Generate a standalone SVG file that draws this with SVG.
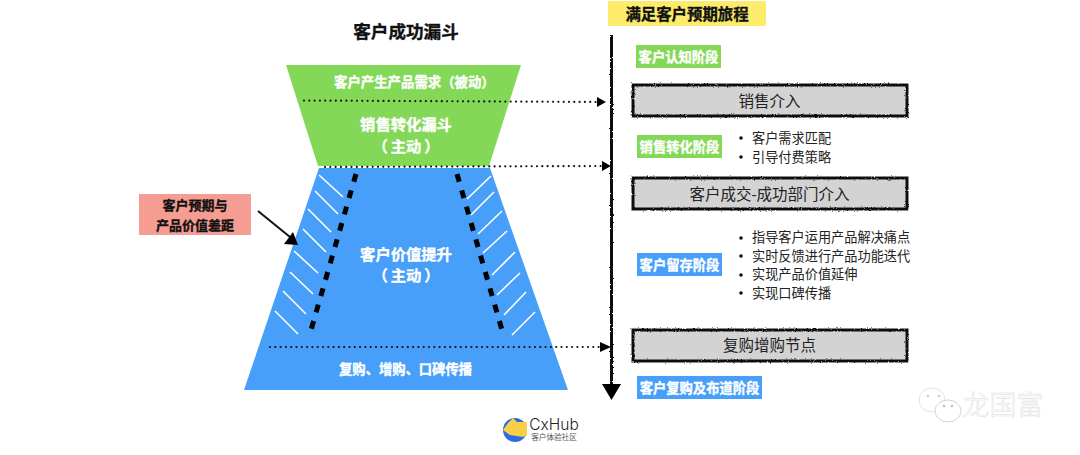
<svg xmlns="http://www.w3.org/2000/svg" width="1080" height="455" viewBox="0 0 1080 455">
<style>
text{font-family:"Liberation Sans","Noto Sans CJK SC",sans-serif;text-anchor:middle;dominant-baseline:central}
.w{fill:#fff;font-weight:700;stroke:#fff;stroke-width:.35px}
.k{fill:#111;font-weight:700;stroke:#111;stroke-width:.35px}
.b{fill:#222;font-size:13.2px;text-anchor:start}
.box{fill:#d3d3d3;stroke:#111;stroke-width:3;filter:url(#rough)}
.bt{fill:#222;font-size:15.5px}
.hatch{stroke:#fff;stroke-width:1.6;fill:none}
.dash{stroke:#000;stroke-width:5;stroke-dasharray:8 9;fill:none}
.dot{stroke:#111;stroke-width:2.2;stroke-linecap:round;stroke-dasharray:0 5.3;fill:none}
.ah{fill:#000}
</style>
<defs>
<filter id="rough" filterUnits="userSpaceOnUse" x="0" y="0" width="1080" height="455"><feTurbulence type="fractalNoise" baseFrequency="0.7" numOctaves="2" seed="3"/><feDisplacementMap in="SourceGraphic" scale="2.4"/></filter>
</defs>
<rect width="1080" height="455" fill="#fff"/>
<g id="title"><text x="406" y="32" class="k" style="font-size:17.6px">客户成功漏斗</text></g>
<g id="funnel-sales">
<polygon points="286,65 521,65 489,166 318,166" fill="#84d858"/>
<text x="414.400" y="82" class="w" style="font-size:13.4px">客户产生产品需求（被动）</text>
<text x="406" y="124" class="w" style="font-size:15.3px">销售转化漏斗</text>
<text x="406" y="146" class="w" style="font-size:15.3px">（<tspan dx="3">主动</tspan><tspan dx="3">）</tspan></text>
</g>
<g id="funnel-value">
<polygon points="319,168 490,168 568,390 244,390" fill="#489ffa"/>
<g class="hatch">
<path d="M319 175L343 197M315 191L338 214M308 209L331 232M303 229L326 252M294 251L318 273M290 272L313 294M283 291L306 314M275 311L298 334"/>
<path d="M491 176L467 199M494 192L471 215M502 211L478 234M507 231L483 253M515 252L492 275M520 273L497 295M526 292L504 315M535 312L512 335"/>
</g>
<path class="dash" d="M356 174L309 337"/>
<path class="dash" d="M457 174L504 337"/>
<text x="406" y="254" class="w" style="font-size:15.3px">客户价值提升</text>
<text x="406" y="275" class="w" style="font-size:15.3px">（<tspan dx="3">主动</tspan><tspan dx="3">）</tspan></text>
<text x="405.500" y="369" class="w" style="font-size:13.3px">复购、增购、口碑传播</text>
</g>
<g id="gap-label">
<rect x="139" y="194" width="112" height="41" fill="#f59d92"/>
<text x="195" y="205" class="k" style="font-size:13px">客户预期与</text>
<text x="195" y="225" class="k" style="font-size:13px">产品价值差距</text>
</g>
<g id="journey-title">
<rect x="608" y="1" width="158" height="25" fill="#fdec6c"/>
<text x="687" y="14" class="k" style="font-size:15.4px">满足客户预期旅程</text>
</g>
<g id="stage-awareness"><rect x="636" y="45" width="85" height="23" fill="#84d858"/><text x="678.500" y="57" class="w" style="font-size:13.300px">客户认知阶段</text></g>
<g id="node-sales"><rect class="box" x="633" y="85" width="274" height="31"/><text x="769.500" y="101" class="bt">销售介入</text></g>
<g id="stage-conversion">
<rect x="637" y="135" width="85" height="23" fill="#84d858"/><text x="679.500" y="147" class="w" style="font-size:13.300px">销售转化阶段</text>
<circle cx="741" cy="138" r="1.800" fill="#111"/><text x="752" y="138" class="b">客户需求匹配</text>
<circle cx="741" cy="157" r="1.800" fill="#111"/><text x="752" y="157" class="b">引导付费策略</text>
</g>
<g id="node-deal"><rect class="box" x="633" y="178" width="274" height="31"/><text x="769.500" y="194" class="bt">客户成交-成功部门介入</text></g>
<g id="stage-retention">
<rect x="637" y="253" width="85" height="23" fill="#489ffa"/><text x="679.500" y="265" class="w" style="font-size:13.300px">客户留存阶段</text>
<circle cx="741" cy="238" r="1.800" fill="#111"/><text x="752" y="237" class="b">指导客户运用产品解决痛点</text>
<circle cx="741" cy="256" r="1.800" fill="#111"/><text x="752" y="256" class="b">实时反馈进行产品功能迭代</text>
<circle cx="741" cy="275" r="1.800" fill="#111"/><text x="752" y="274" class="b">实现产品价值延伸</text>
<circle cx="741" cy="293" r="1.800" fill="#111"/><text x="752" y="293" class="b">实现口碑传播</text>
</g>
<g id="node-repurchase"><rect class="box" x="633" y="330" width="274" height="31"/><text x="769.500" y="345.500" class="bt">复购增购节点</text></g>
<g id="stage-advocacy"><rect x="637" y="376" width="125" height="23" fill="#489ffa"/><text x="699.500" y="388" class="w" style="font-size:13.300px">客户复购及布道阶段</text></g>
<g id="connectors">
<rect x="610" y="35" width="3" height="352" fill="#111" filter="url(#rough)"/>
<polygon class="ah" points="602,384 621,384 611.500,400"/>
<path class="dot" d="M304 100.500L598 102"/>
<polygon class="ah" points="597,97 606,102 597,107"/>
<path class="dot" d="M325 167L602 166"/>
<polygon class="ah" points="602,161 611,166 602,171"/>
<path class="dot" d="M270 347L600 347"/>
<polygon class="ah" points="600,342 611,347 600,352"/>
<path d="M258 211L290 237" stroke="#111" stroke-width="2" fill="none"/>
<polygon class="ah" points="284,244 293,232 298,245"/>
</g>
<g id="logo">
<circle cx="515" cy="430" r="12" fill="#2f6be0"/>
<polygon points="513,418 517,422 527,422 527,435 523,437 510,435 503,430 508,423" fill="#f9cf48"/>
<text x="554" y="424" style="font-size:15.500px;font-family:'Inter','Liberation Sans',sans-serif;font-weight:300;fill:#222">CxHub</text>
<text x="554" y="437" style="font-size:7.600px;fill:#555">客户体验社区</text>
</g>
<g id="watermark">
<ellipse cx="932" cy="400" rx="13" ry="12" fill="#fff" stroke="#e2e2e2"/>
<ellipse cx="948" cy="411" rx="13" ry="11" fill="#fff" stroke="#d4d4d4"/>
<circle cx="928" cy="396" r="1.300" fill="#ccc"/><circle cx="939" cy="396" r="1.300" fill="#ccc"/>
<circle cx="944" cy="406" r="1.300" fill="#bbb"/><circle cx="952" cy="406" r="1.300" fill="#bbb"/>
<text x="1003" y="403" style="font-size:27px;font-family:'Noto Sans CJK SC',sans-serif;font-weight:300;fill:#fff;stroke:#dcdcdc;stroke-width:.5px">龙国富</text>
</g>
</svg>
